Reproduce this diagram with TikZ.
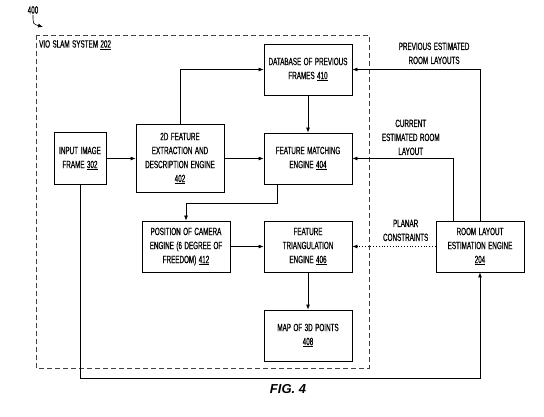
\documentclass[tikz,border=0pt]{standalone}
\usepackage{fontspec}
\newfontfamily\patentfont[FakeStretch=0.6, FakeBold=0.6, WordSpace=1.4]{Liberation Sans}
\newfontfamily\figfont{Liberation Sans}
\usetikzlibrary{positioning, arrows.meta}
\tikzset{
	block/.style={
		rectangle,
		draw,
		line width=0.8pt,
		align=center,
		minimum width=88pt,
		minimum height=51pt,
		inner sep=2pt,
		font=\patentfont\fontsize{10.5}{14}\selectfont,
	},
	lbl/.style={
		align=center,
		inner sep=1pt,
		font=\patentfont\fontsize{10.5}{14}\selectfont,
	},
	line/.style={
		->,
		line width=0.8pt,
	},
}

\begin{document}
\begin{tikzpicture}[node distance = 88pt, >={Latex[length=5pt,width=4pt]}]
		\useasboundingbox (0,0) rectangle (544pt,-417pt);
		% Place nodes
		\node [block] (match) at (308pt,-158.5pt) {FEATURE MATCHING\\ENGINE \underline{404}};
		\node [block, above of = match, yshift=1pt] (db) {DATABASE OF PREVIOUS\\FRAMES \underline{410}};
		\node [block, below of = match] (tri) {FEATURE\\TRIANGULATION\\ENGINE \underline{406}};
		\node [block, below of = tri, yshift=-1pt] (map) {MAP OF 3D POINTS\\\underline{408}};
		\node [block, left of = tri, xshift=-34pt] (cam) {POSITION OF CAMERA\\ENGINE (6 DEGREE OF\\FREEDOM) \underline{412}};
		\node [block, right of = tri, xshift=84pt] (room) {ROOM LAYOUT\\ESTIMATION ENGINE\\\underline{204}};
		\node [block, left of = match, xshift=-40pt, minimum height=68pt] (feat) {2D FEATURE\\EXTRACTION AND\\DESCRIPTION ENGINE\\\underline{402}};
		\node [block, left of = feat, xshift=-12pt, minimum width=52pt, minimum height=52pt] (inp) {INPUT IMAGE\\FRAME \underline{302}};
		
		% VIO SLAM system frame
		\draw [dash pattern=on 5pt off 3pt, black!75, line width=0.6pt] (36pt,-35pt) rectangle (369pt,-368pt);
		\node [lbl, anchor=west] (vio) at (38pt,-45pt) {VIO SLAM SYSTEM \underline{202}};
		
		\node [lbl] (num) at (33pt,-10pt) {400};
		\coordinate (numtip) at (43pt,-27pt);
		\draw [->, line width=0.6pt] (num.south) .. controls (33pt,-24pt) .. (numtip);
		
		\node [lbl, font=\figfont\bfseries\itshape\fontsize{13}{15}\selectfont] (fig) at (288pt,-389pt) {FIG. 4};
		
		% Connections
		\draw [line] (inp.east) -- (inp.east -| feat.west);
		\draw [line] (feat.east |- match.west) -- (match.west);
		\draw [line] (feat.north) |- (db.west);
		\draw [line] (db) -- (match);
		\draw [line] ([xshift=-31pt]match.south) -- ++(0,-19pt) -| (cam.north);
		\draw [line] (cam) -- (tri);
		\draw [line] (tri) -- (map);
		
		\draw [line, dotted] (room) -- node [lbl, above=4pt, pos=0.36] (planar) {PLANAR\\CONSTRAINTS} (tri);
		\draw [line] ([xshift=-27pt]room.north) |- node [lbl, above=2pt, pos=0.71] (current) {CURRENT\\ESTIMATED ROOM\\LAYOUT} (match.east);
		\draw [line] (room.north) |- node [lbl, above=4pt, pos=0.68] (previous) {PREVIOUS ESTIMATED\\ROOM LAYOUTS} (db.east);
		\draw [line] (inp.south) -- ++(0,-193pt) -| (room.south);

	\end{tikzpicture}
\end{document}
